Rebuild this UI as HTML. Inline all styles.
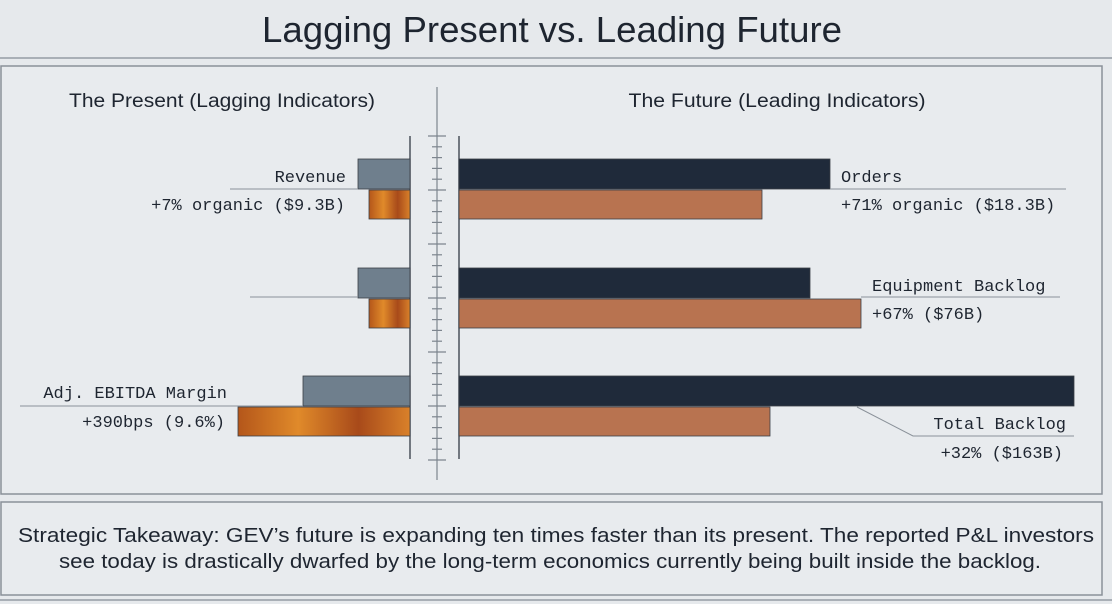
<!DOCTYPE html>
<html><head><meta charset="utf-8"><style>
html,body{margin:0;padding:0;background:#e6e9ec;}
svg{display:block;}
.mono{font-family:"Liberation Mono",monospace;font-size:17px;fill:#1e2530;}
.sans{font-family:"Liberation Sans",sans-serif;fill:#1e2530;}
</style></head><body>
<svg id="chart" width="1112" height="604" viewBox="0 0 1112 604">
<defs>
<linearGradient id="og" x1="0" x2="1" y1="0" y2="0">
<stop offset="0" stop-color="#b4561a"/><stop offset="0.35" stop-color="#e08a2a"/><stop offset="0.7" stop-color="#a84a1a"/><stop offset="1" stop-color="#d9812a"/>
</linearGradient>
</defs>
<rect x="0" y="0" width="1112" height="604" fill="#e6e9ec"/>
<text x="552" y="42" text-anchor="middle" class="sans" font-size="36" textLength="580" lengthAdjust="spacingAndGlyphs" fill="#2a3240">Lagging Present vs. Leading Future</text>
<line x1="0" y1="58" x2="1112" y2="58" stroke="#a9afb6" stroke-width="2"/>
<rect x="1" y="66" width="1101" height="428" fill="#e8ebee" stroke="#8a9199" stroke-width="1.5"/>
<text x="222" y="107" text-anchor="middle" class="sans" font-size="19" textLength="306" lengthAdjust="spacingAndGlyphs">The Present (Lagging Indicators)</text>
<text x="777" y="107" text-anchor="middle" class="sans" font-size="19" textLength="297" lengthAdjust="spacingAndGlyphs">The Future (Leading Indicators)</text>
<g id="ruler"></g>
<line x1="410" y1="136" x2="410" y2="459" stroke="#4a525c" stroke-width="1.5"/>
<line x1="459" y1="136" x2="459" y2="459" stroke="#4a525c" stroke-width="1.5"/>
<g id="bars"></g>
<g id="labels">
<line x1="230" y1="189" x2="358" y2="189" stroke="#8a9199"/>
<text x="346" y="182" text-anchor="end" class="mono">Revenue</text>
<text x="345" y="210" text-anchor="end" class="mono">+7% organic ($9.3B)</text>
<line x1="250" y1="297" x2="358" y2="297" stroke="#8a9199"/>
<line x1="20" y1="406" x2="303" y2="406" stroke="#8a9199"/>
<text x="227" y="398" text-anchor="end" class="mono">Adj. EBITDA Margin</text>
<text x="225" y="427" text-anchor="end" class="mono">+390bps (9.6%)</text>
<line x1="830" y1="189" x2="1066" y2="189" stroke="#8a9199"/>
<text x="841" y="182" class="mono">Orders</text>
<text x="841" y="210" class="mono">+71% organic ($18.3B)</text>
<line x1="861" y1="297" x2="1060" y2="297" stroke="#8a9199"/>
<text x="872" y="291" class="mono">Equipment Backlog</text>
<text x="872" y="319" class="mono">+67% ($76B)</text>
<polyline points="857,407 913,436 1074,436" fill="none" stroke="#8a9199"/>
<text x="1066" y="429" text-anchor="end" class="mono">Total Backlog</text>
<text x="1063" y="458" text-anchor="end" class="mono">+32% ($163B)</text>
</g>
<rect x="1" y="502" width="1101" height="93" fill="#e8ebee" stroke="#8a9199" stroke-width="1.5"/>
<text x="556" y="542" text-anchor="middle" class="sans" font-size="20" textLength="1076" lengthAdjust="spacingAndGlyphs">Strategic Takeaway: GEV’s future is expanding ten times faster than its present. The reported P&amp;L investors</text>
<text x="550" y="568" text-anchor="middle" class="sans" font-size="20" textLength="982" lengthAdjust="spacingAndGlyphs">see today is drastically dwarfed by the long-term economics currently being built inside the backlog.</text>
<line x1="0" y1="600" x2="1112" y2="600" stroke="#a9afb6" stroke-width="2"/>
</svg>
<script>
const leftCategories = ["Revenue", "Row 2", "Adj. EBITDA Margin"];
const leftPrior = [52, 52, 107];
const leftCurrent = [41, 41, 172];
const rightCategories = ["Orders", "Equipment Backlog", "Total Backlog"];
const rightPrior = [371, 351, 615];
const rightCurrent = [303, 402, 311];
const rulerTicks = [0,1,2,3,4,5,6,7,8,9,10,11,12,13,14,15,16,17,18,19,20,21,22,23,24,25,26,27,28,29,30];

const NS = "http://www.w3.org/2000/svg";
const rowY = i => [159, 268, 376][i];
const leftX = v => 410 - v;
const rightX = v => 459 + v;
const bars = document.getElementById('bars');
function rect(x, y, w, h, fill, name) {
  const r = document.createElementNS(NS, 'rect');
  r.setAttribute('x', x); r.setAttribute('y', y);
  r.setAttribute('width', w); r.setAttribute('height', h);
  r.setAttribute('fill', fill); r.setAttribute('stroke', '#3a3f46'); r.setAttribute('stroke-width', '0.8');
  
  
  bars.appendChild(r);
}
leftCategories.forEach((c, i) => {
  rect(leftX(leftPrior[i]), rowY(i), leftPrior[i], 30, '#6f7f8d', 'left-prior-bar-' + i);
  rect(leftX(leftCurrent[i]), rowY(i) + 31, leftCurrent[i], 29, 'url(#og)', 'left-current-bar-' + i);
});
rightCategories.forEach((c, i) => {
  rect(459, rowY(i), rightPrior[i], 30, '#1f2a3a', 'right-prior-bar-' + i);
  rect(459, rowY(i) + 31, rightCurrent[i], 29, '#b87350', 'right-current-bar-' + i);
});
const ruler = document.getElementById('ruler');
const ln = document.createElementNS(NS, 'line');
ln.setAttribute('x1', 437); ln.setAttribute('x2', 437); ln.setAttribute('y1', 87); ln.setAttribute('y2', 480);
ln.setAttribute('stroke', '#7d858e'); ln.setAttribute('stroke-width', '1.2');


ruler.appendChild(ln);
rulerTicks.forEach(t => {
  const y = 136 + t * 10.8;
  const major = t % 5 === 0;
  const l = document.createElementNS(NS, 'line');
  l.setAttribute('x1', major ? 428 : 432); l.setAttribute('x2', major ? 446 : 442);
  l.setAttribute('y1', y); l.setAttribute('y2', y);
  l.setAttribute('stroke', '#7d858e'); l.setAttribute('stroke-width', '1.2');
  
  
  ruler.appendChild(l);
});
</script>
</body></html>
